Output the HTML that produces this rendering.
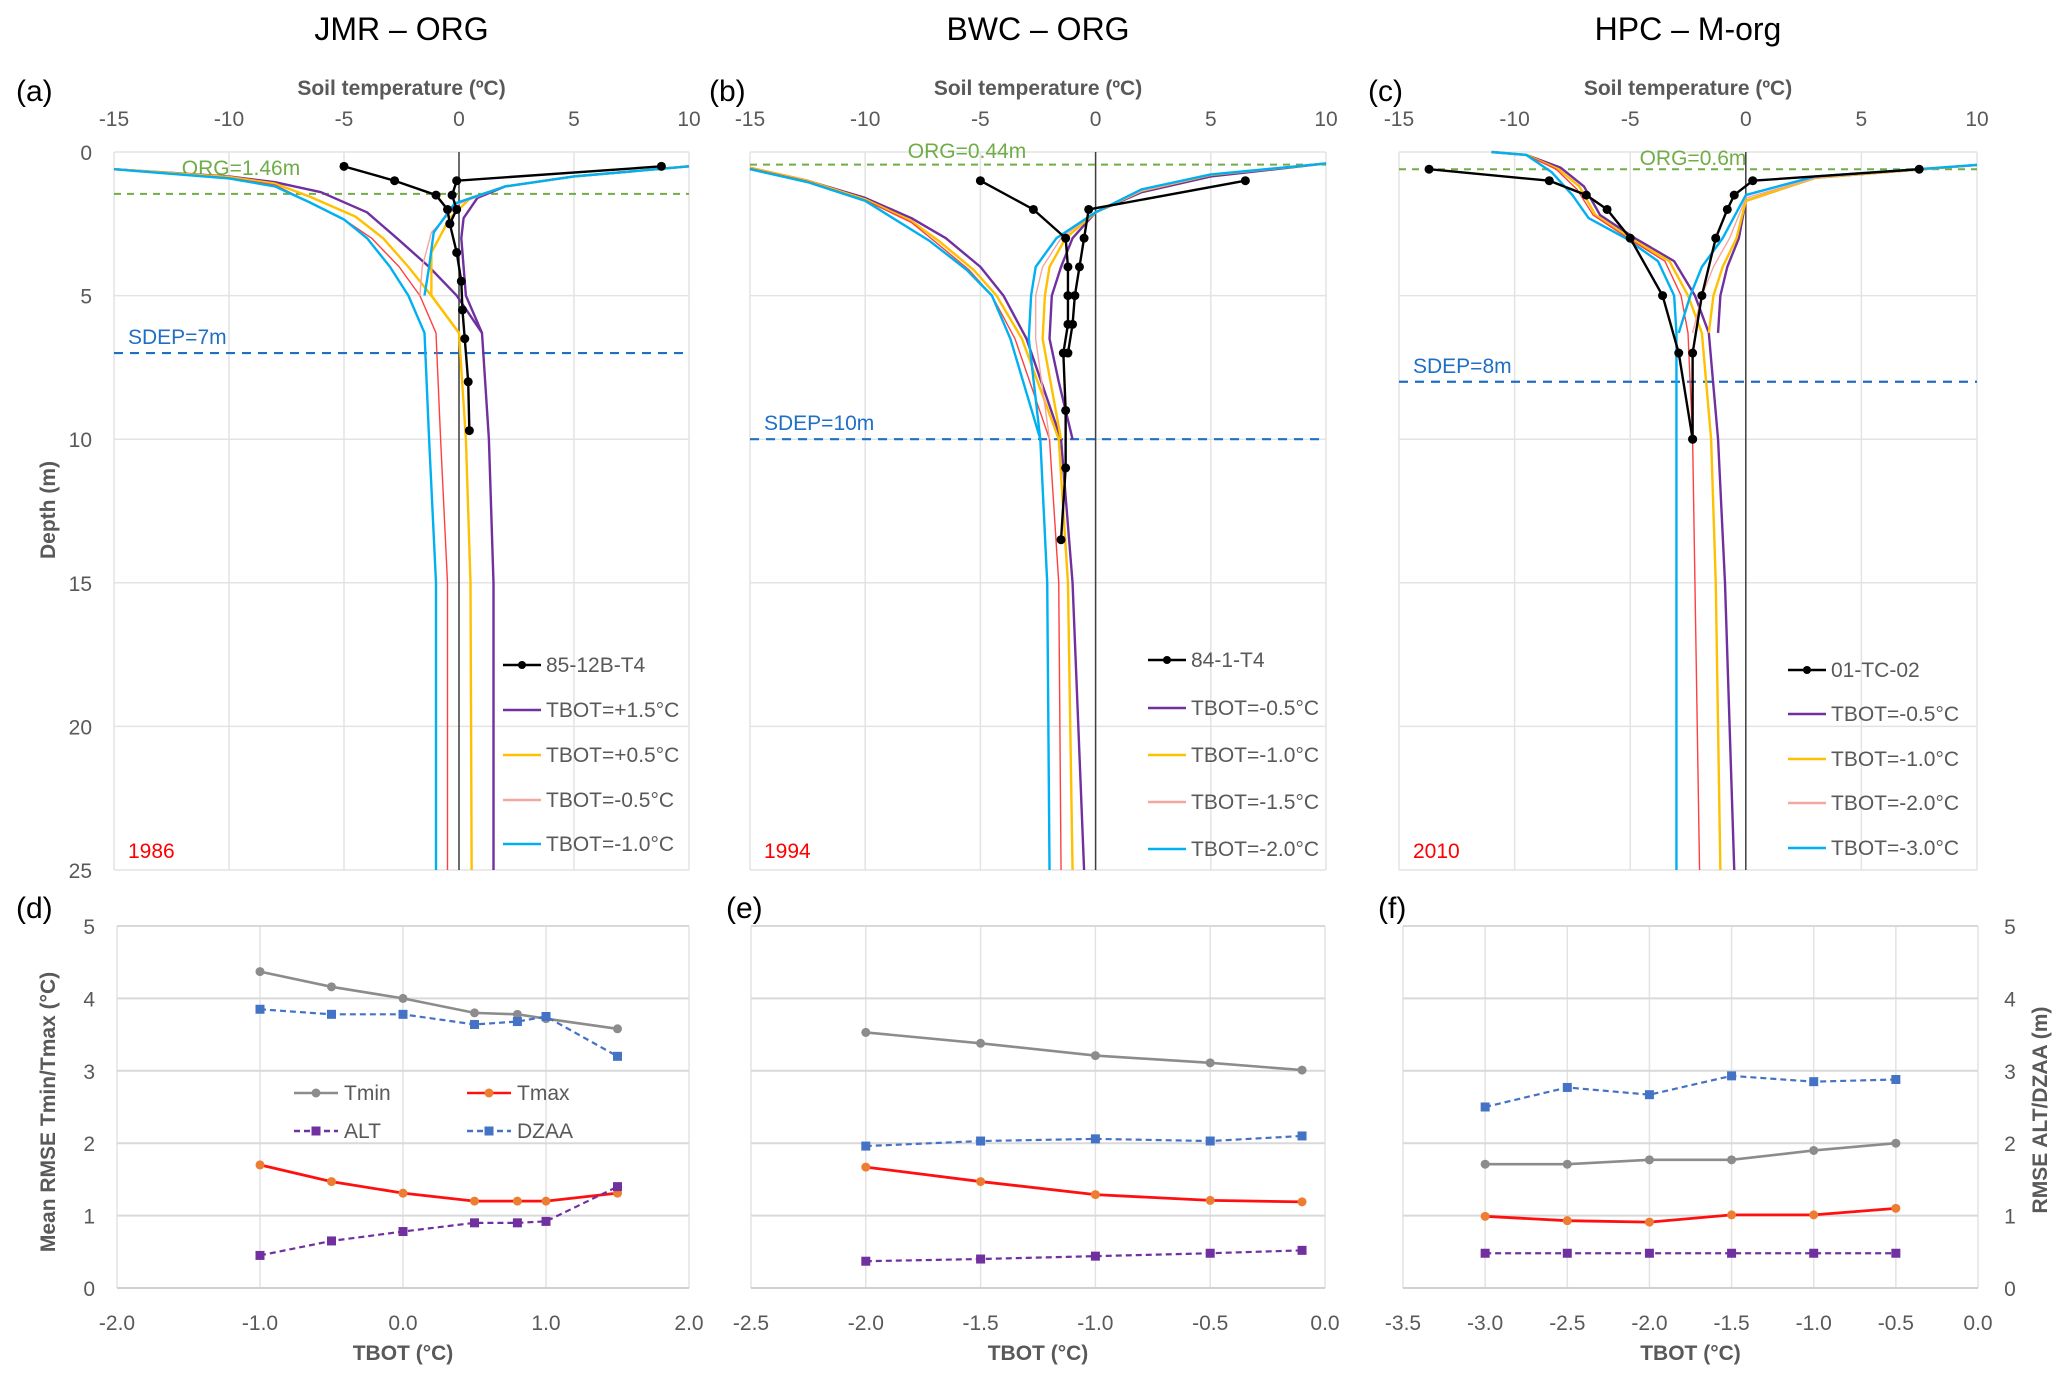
<!DOCTYPE html>
<html><head><meta charset="utf-8">
<style>
html,body{margin:0;padding:0;background:#fff;}
svg{display:block;font-family:"Liberation Sans",sans-serif;}
</style></head>
<body>
<svg id="fig" width="2067" height="1383" viewBox="0 0 2067 1383" xmlns="http://www.w3.org/2000/svg"></svg>
<script>
// ---------------- DATA ----------------
const panelTitles = ["JMR \u2013 ORG","BWC \u2013 ORG","HPC \u2013 M-org"];
const panelLetters = ["(a)","(b)","(c)"];
const bottomLetters = ["(d)","(e)","(f)"];
const years = ["1986","1994","2010"];
const orgDepths = [1.46, 0.44, 0.6];
const orgLabels = ["ORG=1.46m","ORG=0.44m","ORG=0.6m"];
const sdepDepths = [7, 10, 8];
const sdepLabels = ["SDEP=7m","SDEP=10m","SDEP=8m"];
const tempTicks = [-15,-10,-5,0,5,10];
const depthTicks = [0,5,10,15,20,25];
const obsNames = ["85-12B-T4","84-1-T4","01-TC-02"];
const tbotLabels = [
 ["TBOT=+1.5\u00b0C","TBOT=+0.5\u00b0C","TBOT=-0.5\u00b0C","TBOT=-1.0\u00b0C"],
 ["TBOT=-0.5\u00b0C","TBOT=-1.0\u00b0C","TBOT=-1.5\u00b0C","TBOT=-2.0\u00b0C"],
 ["TBOT=-0.5\u00b0C","TBOT=-1.0\u00b0C","TBOT=-2.0\u00b0C","TBOT=-3.0\u00b0C"]];
const obsA_cold = [[-5,0.5],[-2.8,1],[-1,1.5],[-0.5,2],[-0.4,2.5],[-0.1,3.5],[0.1,4.5],[0.15,5.5],[0.25,6.5],[0.4,8],[0.45,9.7]];
const obsA_warm = [[8.8,0.5],[-0.1,1.0],[-0.3,1.5],[-0.1,2],[-0.4,2.5]];
const obsB_cold = [[-5,1],[-2.7,2],[-1.3,3],[-1.2,4],[-1.2,5],[-1.2,6],[-1.4,7],[-1.3,9],[-1.3,11],[-1.5,13.5]];
const obsB_warm = [[6.5,1],[-0.3,2],[-0.5,3],[-0.7,4],[-0.9,5],[-1,6],[-1.2,7]];
const obsC_cold = [[-13.7,0.6],[-8.5,1],[-6.9,1.5],[-6,2],[-5,3],[-3.6,5],[-2.9,7],[-2.3,10]];
const obsC_warm = [[7.5,0.6],[0.3,1],[-0.5,1.5],[-0.8,2],[-1.3,3],[-1.9,5],[-2.3,7],[-2.3,10]];
const simA_cold = [
 [[-15,0.6],[-10,0.85],[-8,1.05],[-6,1.4],[-4,2.1],[-2.7,3],[-1.3,4],[-0.1,5],[1.0,6.3],[1.3,10],[1.5,15],[1.5,25]],
 [[-15,0.6],[-10,0.87],[-8,1.1],[-6.5,1.55],[-4.5,2.25],[-3.3,3],[-2.2,4],[-1.2,5],[0,6.3],[0.3,10],[0.5,15],[0.55,25]],
 [[-15,0.6],[-10,0.9],[-8,1.15],[-6.5,1.75],[-5,2.35],[-3.8,3],[-2.6,4],[-1.7,5],[-1.0,6.3],[-0.8,10],[-0.5,15],[-0.5,25]],
 [[-15,0.6],[-10,0.92],[-8,1.2],[-6.5,1.75],[-5,2.35],[-4,3],[-3.0,4],[-2.2,5],[-1.5,6.3],[-1.3,10],[-1.0,15],[-1.0,25]]];
const simA_warm = [
 [[10,0.5],[5,0.85],[2,1.2],[0.8,1.6],[0.2,2.3],[0.1,3],[0.3,5],[1.0,6.3]],
 [[10,0.5],[5,0.85],[2,1.2],[0.5,1.6],[-0.4,2.3],[-1.2,3.5],[-1.2,5],[0,6.3]],
 [[10,0.5],[5,0.85],[2,1.2],[0,1.8],[-1.2,2.8],[-1.6,4],[-1.7,5]],
 [[10,0.5],[5,0.85],[2,1.2],[-0.2,1.8],[-1.1,2.8],[-1.3,4],[-1.5,5]]];
const simB_cold = [
 [[-15,0.55],[-12.5,1],[-10,1.6],[-8,2.3],[-6.5,3],[-5,4],[-4,5],[-3,6.5],[-1.5,10],[-1.0,15],[-0.5,25]],
 [[-15,0.55],[-12.5,1],[-10,1.65],[-8,2.4],[-6.8,3.1],[-5.3,4.1],[-4.3,5],[-3.2,6.5],[-1.6,10],[-1.2,15],[-1.0,25]],
 [[-15,0.57],[-12.5,1.02],[-10,1.68],[-8,2.45],[-7,3.1],[-5.5,4.1],[-4.5,5],[-3.5,6.5],[-2.0,10],[-1.6,15],[-1.5,25]],
 [[-15,0.6],[-12.5,1.05],[-10,1.7],[-7.2,3.1],[-5.6,4.1],[-4.5,5],[-3.7,6.5],[-2.4,10],[-2.1,15],[-2.0,25]]];
const simB_warm = [
 [[10,0.4],[5,0.85],[2,1.4],[0,2.1],[-1,3],[-1.5,4],[-1.9,5],[-2,6.5],[-1.6,8],[-1,10]],
 [[10,0.4],[5,0.8],[2,1.35],[0,2.1],[-1.3,3],[-2,4],[-2.2,5],[-2.3,6.5],[-1.5,10]],
 [[10,0.4],[5,0.8],[2,1.35],[0,2.1],[-1.5,3],[-2.3,4],[-2.6,5],[-2.6,6.5],[-2.0,10]],
 [[10,0.4],[5,0.78],[2,1.3],[0,2.1],[-1.7,3],[-2.6,4],[-2.8,5],[-2.9,6.5],[-2.4,10]]];
const simC_cold = [
 [[-11,0],[-9.5,0.1],[-8,0.55],[-7,1.2],[-6.3,2.2],[-4.8,3],[-3.1,3.8],[-2.2,5],[-1.6,6.3],[-1.2,10],[-0.9,15],[-0.5,25]],
 [[-11,0],[-9.5,0.1],[-8.1,0.6],[-7.2,1.2],[-6.5,2.2],[-5,3],[-3.3,3.8],[-2.5,5],[-1.9,6.3],[-1.5,10],[-1.3,15],[-1.1,25]],
 [[-11,0],[-9.5,0.1],[-8.2,0.6],[-7.3,1.3],[-6.6,2.2],[-5.1,3],[-3.5,3.8],[-2.8,5],[-2.5,6.3],[-2.3,10],[-2.2,15],[-2.0,25]],
 [[-11,0],[-9.5,0.1],[-8.4,0.7],[-7.5,1.5],[-6.8,2.3],[-5.2,3],[-3.8,3.8],[-3.1,5],[-3.0,6.3],[-3.0,10],[-3.0,15],[-3.0,25]]];
const simC_warm = [
 [[10,0.45],[3,0.9],[0,1.7],[-0.3,3],[-0.8,4],[-1.1,5],[-1.2,6.3]],
 [[10,0.45],[3,0.9],[0,1.7],[-0.4,3],[-1.0,4],[-1.4,5],[-1.6,6.3]],
 [[10,0.45],[3,0.9],[0,1.6],[-0.7,3],[-1.4,4],[-1.9,5],[-2.3,6.3]],
 [[10,0.45],[3,0.85],[0,1.5],[-1.0,3],[-1.9,4],[-2.4,5],[-2.9,6.3]]];
const tbotD = [-1,-0.5,0,0.5,0.8,1,1.5];
const tminD = [4.37,4.16,4.0,3.8,3.78,3.72,3.58];
const tmaxD = [1.7,1.47,1.31,1.2,1.2,1.2,1.31];
const altD  = [0.45,0.65,0.78,0.9,0.9,0.92,1.4];
const dzaaD = [3.85,3.78,3.78,3.64,3.68,3.75,3.2];
const tbotE = [-2,-1.5,-1,-0.5,-0.1];
const tminE = [3.53,3.38,3.21,3.11,3.01];
const tmaxE = [1.67,1.47,1.29,1.21,1.19];
const altE  = [0.37,0.40,0.44,0.48,0.52];
const dzaaE = [1.96,2.03,2.06,2.03,2.1];
const tbotF = [-3,-2.5,-2,-1.5,-1,-0.5];
const tminF = [1.71,1.71,1.77,1.77,1.9,2.0];
const tmaxF = [0.99,0.93,0.91,1.01,1.01,1.1];
const altF  = [0.48,0.48,0.48,0.48,0.48,0.48];
const dzaaF = [2.5,2.77,2.67,2.93,2.85,2.88];
const xTicksD = [-2.0,-1.0,0.0,1.0,2.0];
const xTicksE = [-2.5,-2.0,-1.5,-1.0,-0.5,0.0];
const xTicksF = [-3.5,-3.0,-2.5,-2.0,-1.5,-1.0,-0.5,0.0];
const rmseTicks = [0,1,2,3,4,5];

// ---------------- DRAW ----------------
const svg = document.getElementById('fig');
const NS = "http://www.w3.org/2000/svg";
function mk(tag, attrs, parent){
  const e = document.createElementNS(NS, tag);
  for (const k in attrs) e.setAttribute(k, attrs[k]);
  (parent||svg).appendChild(e);
  return e;
}
function txt(s, x, y, size, fill, anchor, parent, weight){
  const t = mk('text',{x:x,y:y,'font-size':size,fill:fill,'text-anchor':anchor||'middle'},parent);
  if (weight) t.setAttribute('font-weight', weight);
  t.textContent = s;
  return t;
}
const colors = ["#7030a0","#ffc000","#ff4040","#00b0f0"];
const topBoxes = [{x0:114,x1:689},{x0:750,x1:1326},{x0:1399,x1:1977}];
const TY0 = 152, TY1 = 870;
const obsCold = [obsA_cold, obsB_cold, obsC_cold];
const obsWarm = [obsA_warm, obsB_warm, obsC_warm];
const simCold = [simA_cold, simB_cold, simC_cold];
const simWarm = [simA_warm, simB_warm, simC_warm];
const legY = [[665,710,755,800,844],[660,708,755,802,849],[670,714,759,803,848]];
const legX = [503,1148,1788];
const letterX = [16,709,1368];
const orgLX = [241,967,1693];
const orgLY = [175,158,165];

topBoxes.forEach((b, p) => {
  const g = mk('g', {});
  
  
  const xs = v => b.x0 + (v + 15) / 25 * (b.x1 - b.x0);
  const ys = d => TY0 + d / 25 * (TY1 - TY0);
  const tt = txt(panelTitles[p], (b.x0 + b.x1) / 2, 40, 32, '#000', 'middle', g);
  
  
  const pl = txt(panelLetters[p], letterX[p], 101, 30, '#000', 'start', g);
  
  
  const xt = txt("Soil temperature (\u00baC)", (b.x0 + b.x1) / 2, 95, 21, '#595959', 'middle', g, 'bold');
  
  
  tempTicks.forEach(v => {
    mk('line', {x1:xs(v), x2:xs(v), y1:TY0, y2:TY1, stroke:'#e3e3e3', 'stroke-width':1.5}, g);
    const l = txt(String(v), xs(v), 126, 21, '#595959', 'middle', g);
    
    
  });
  depthTicks.forEach(d => {
    mk('line', {x1:b.x0, x2:b.x1, y1:ys(d), y2:ys(d), stroke:'#e3e3e3', 'stroke-width':1.5}, g);
    if (p === 0) {
      const l = txt(String(d), b.x0 - 22, ys(d) + 8, 21, '#595959', 'end', g);
      
      
    }
  });
  mk('line', {x1:xs(0), x2:xs(0), y1:TY0, y2:TY1, stroke:'#404040', 'stroke-width':1.5}, g);
  const og = mk('line', {x1:b.x0, x2:b.x1, y1:ys(orgDepths[p]), y2:ys(orgDepths[p]), stroke:'#70ad47', 'stroke-width':2, 'stroke-dasharray':'7,6'}, g);
  
  
  const ol = txt(orgLabels[p], orgLX[p], orgLY[p], 21, '#70ad47', 'middle', g);
  
  
  const sd = mk('line', {x1:b.x0, x2:b.x1, y1:ys(sdepDepths[p]), y2:ys(sdepDepths[p]), stroke:'#1f6fc5', 'stroke-width':2.2, 'stroke-dasharray':'9,7'}, g);
  
  
  const sl = txt(sdepLabels[p], b.x0 + 14, ys(sdepDepths[p]) - 9, 21, '#1f6fc5', 'start', g);
  
  
  const widths = [2.4, 2.4, 1.4, 2.4];
  simCold[p].forEach((arr, i) => {
    const pc = mk('polyline', {points: arr.map(q => xs(q[0]) + ',' + ys(q[1])).join(' '), fill:'none', stroke:colors[i], 'stroke-width':widths[i], 'stroke-linejoin':'round'}, g);
    
    
  });
  simWarm[p].forEach((arr, i) => {
    const pw = mk('polyline', {points: arr.map(q => xs(q[0]) + ',' + ys(q[1])).join(' '), fill:'none', stroke: i === 2 ? '#f4a6a0' : colors[i], 'stroke-width':widths[i], 'stroke-linejoin':'round'}, g);
    
    
  });
  [obsCold[p], obsWarm[p]].forEach(arr => {
    const po = mk('polyline', {points: arr.map(q => xs(q[0]) + ',' + ys(q[1])).join(' '), fill:'none', stroke:'#000', 'stroke-width':2.4}, g);
    
    
    arr.forEach(q => {
      const c = mk('circle', {cx:xs(q[0]), cy:ys(q[1]), r:4.5, fill:'#000'}, g);
      
      
    });
  });
  const lx = legX[p];
  const names = [obsNames[p]].concat(tbotLabels[p]);
  names.forEach((n, i) => {
    const ly = legY[p][i];
    const col = i === 0 ? '#000' : (i === 3 ? '#f4a6a0' : colors[i - 1]);
    mk('line', {x1:lx, x2:lx + 38, y1:ly, y2:ly, stroke:col, 'stroke-width':2.4}, g);
    if (i === 0) mk('circle', {cx:lx + 19, cy:ly, r:4, fill:'#000'}, g);
    const le = txt(n, lx + 43, ly + 7, 21, '#595959', 'start', g);
    
    
  });
  const yr = txt(years[p], b.x0 + 14, 858, 21, '#ff0000', 'start', g);
  
  
});
const dy = txt("Depth (m)", 0, 0, 21, '#595959', 'middle', null, 'bold');
dy.setAttribute('transform', 'translate(55,510) rotate(-90)');



const botBoxes = [{x0:117,x1:689,xmin:-2,xmax:2},{x0:751,x1:1325,xmin:-2.5,xmax:0},{x0:1403,x1:1978,xmin:-3.5,xmax:0}];
const BY0 = 926, BY1 = 1288;
const bx = [tbotD, tbotE, tbotF];
const bTmin = [tminD, tminE, tminF];
const bTmax = [tmaxD, tmaxE, tmaxF];
const bAlt = [altD, altE, altF];
const bDzaa = [dzaaD, dzaaE, dzaaF];
const bTicks = [xTicksD, xTicksE, xTicksF];
const vGrid = [[-1,0,1],[-2,-1.5,-1,-0.5],[-3,-2.5,-2,-1.5,-1,-0.5]];
const bLetterX = [16,726,1378];
botBoxes.forEach((b, p) => {
  const g = mk('g', {});
  
  
  const xs = v => b.x0 + (v - b.xmin) / (b.xmax - b.xmin) * (b.x1 - b.x0);
  const ys = v => BY1 - v / 5 * (BY1 - BY0);
  const pl = txt(bottomLetters[p], bLetterX[p], 918, 30, '#000', 'start', g);
  
  
  vGrid[p].forEach(v => mk('line', {x1:xs(v), x2:xs(v), y1:BY0, y2:BY1, stroke:'#e3e3e3', 'stroke-width':1.5}, g));
  mk('line', {x1:b.x0, x2:b.x0, y1:BY0, y2:BY1, stroke:'#e3e3e3', 'stroke-width':1.5}, g);
  mk('line', {x1:b.x1, x2:b.x1, y1:BY0, y2:BY1, stroke:'#e3e3e3', 'stroke-width':1.5}, g);
  rmseTicks.forEach(v => {
    mk('line', {x1:b.x0, x2:b.x1, y1:ys(v), y2:ys(v), stroke: v === 0 ? '#d0d0d0' : '#d9d9d9', 'stroke-width':2}, g);
    if (p === 0) {
      const l = txt(String(v), b.x0 - 22, ys(v) + 8, 21, '#595959', 'end', g);
      
      
    }
    if (p === 2) {
      const l = txt(String(v), 2010, ys(v) + 8, 21, '#595959', 'middle', g);
      
      
    }
  });
  bTicks[p].forEach(v => {
    const l = txt(v.toFixed(1), xs(v), 1330, 21, '#595959', 'middle', g);
    
    
  });
  const xt = txt("TBOT (\u00b0C)", (b.x0 + b.x1) / 2, 1360, 21, '#595959', 'middle', g, 'bold');
  
  
  const series = [
    {vals:bTmin[p], col:'#8c8c8c', dash:null, mark:'circle', mcol:'#8c8c8c', w:2.6, name:'tmin-line'},
    {vals:bTmax[p], col:'#ff1010', dash:null, mark:'circle', mcol:'#ed7d31', w:2.8, name:'tmax-line'},
    {vals:bAlt[p], col:'#7030a0', dash:'6,4', mark:'square', mcol:'#7030a0', w:2.2, name:'alt-line'},
    {vals:bDzaa[p], col:'#4472c4', dash:'6,4', mark:'square', mcol:'#4472c4', w:2.2, name:'dzaa-line'}];
  series.forEach(s => {
    const pts = bx[p].map((x, i) => xs(x) + ',' + ys(s.vals[i])).join(' ');
    const a = {points:pts, fill:'none', stroke:s.col, 'stroke-width':s.w};
    if (s.dash) a['stroke-dasharray'] = s.dash;
    const ln = mk('polyline', a, g);
    
    
    bx[p].forEach((x, i) => {
      let m;
      if (s.mark === 'circle') m = mk('circle', {cx:xs(x), cy:ys(s.vals[i]), r:4.5, fill:s.mcol}, g);
      else m = mk('rect', {x:xs(x) - 4.5, y:ys(s.vals[i]) - 4.5, width:9, height:9, fill:s.mcol}, g);
      
      
    });
  });
});
const legItems = [
  {n:'Tmin', x:294, y:1093, col:'#8c8c8c', dash:null, mark:'circle', mcol:'#8c8c8c'},
  {n:'Tmax', x:467, y:1093, col:'#ff1010', dash:null, mark:'circle', mcol:'#ed7d31'},
  {n:'ALT', x:294, y:1131, col:'#7030a0', dash:'6,4', mark:'square', mcol:'#7030a0'},
  {n:'DZAA', x:467, y:1131, col:'#4472c4', dash:'6,4', mark:'square', mcol:'#4472c4'}];
legItems.forEach(it => {
  const a = {x1:it.x, x2:it.x + 44, y1:it.y, y2:it.y, stroke:it.col, 'stroke-width':2.6};
  if (it.dash) a['stroke-dasharray'] = it.dash;
  mk('line', a);
  if (it.mark === 'circle') mk('circle', {cx:it.x + 22, cy:it.y, r:4.5, fill:it.mcol});
  else mk('rect', {x:it.x + 17.5, y:it.y - 4.5, width:9, height:9, fill:it.mcol});
  const t = txt(it.n, it.x + 50, it.y + 7, 21, '#595959', 'start');
  
  
});
const yl = txt("Mean RMSE Tmin/Tmax (\u00b0C)", 0, 0, 21, '#595959', 'middle', null, 'bold');
yl.setAttribute('transform', 'translate(55,1112) rotate(-90)');


const yr2 = txt("RMSE ALT/DZAA (m)", 0, 0, 21, '#595959', 'middle', null, 'bold');
yr2.setAttribute('transform', 'translate(2047,1110) rotate(-90)');


</script>
</body></html>
